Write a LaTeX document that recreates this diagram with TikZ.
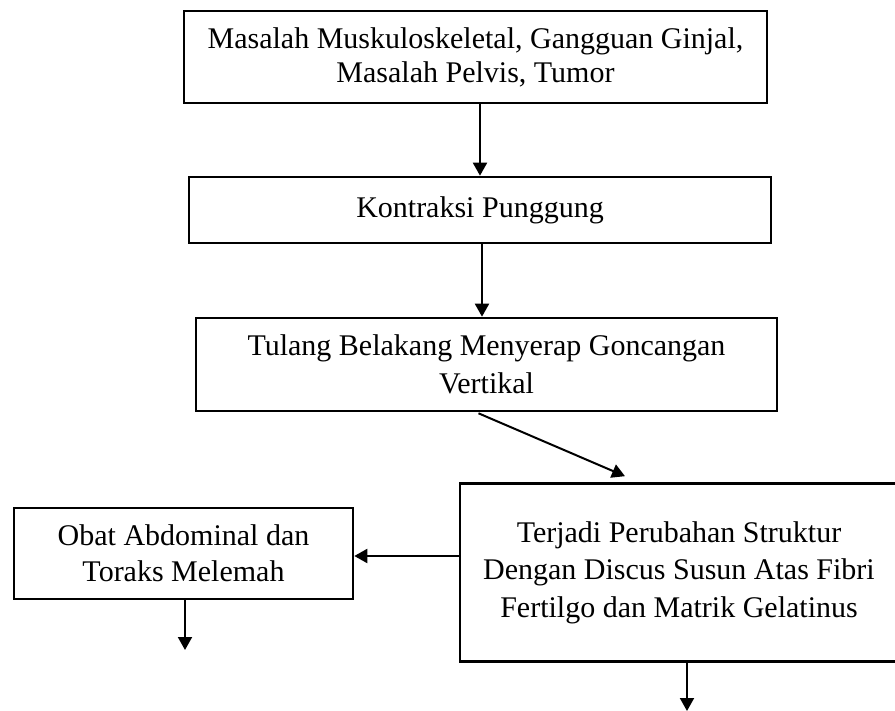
\documentclass[tikz,border=0pt]{standalone}
\usepackage{fontspec}
\setmainfont{Liberation Serif}
\usepackage{tikz}
\usetikzlibrary{calc,arrows.meta,positioning}
\definecolor{boxline}{RGB}{0,0,0}

\tikzset{
  kotak/.style={draw=boxline, line width=2.6pt, rectangle, align=center, inner sep=0pt,
    font=\fontsize{30}{36}\selectfont},
  panah/.style={draw=boxline, line width=2pt, -{Triangle[length=13pt,width=14pt]}}
}

\begin{document}
\begin{tikzpicture}[x=1pt,y=-1pt]
\useasboundingbox (0,0) rectangle (895,711);

% top chain
\node[kotak, minimum width=583pt, minimum height=92pt, font=\fontsize{30}{34}\selectfont]
  (masalah) at (475.5,57) {Masalah Muskuloskeletal, Gangguan Ginjal,\\Masalah Pelvis, Tumor};
\node[kotak, minimum width=582pt, minimum height=66pt] (kontraksi) at (480,210) {Kontraksi Punggung};
\node[kotak, minimum width=581pt, minimum height=93pt, font=\fontsize{30}{38}\selectfont]
  (tulang) at (486.5,364.5) {Tulang Belakang Menyerap Goncangan\\Vertikal};

% bottom row
\node[kotak, minimum width=438pt, minimum height=178pt, font=\fontsize{30}{37.5}\selectfont]
  (struktur) at (679,572.5) {Terjadi Perubahan Struktur\\Dengan Discus Susun Atas Fibri\\Fertilgo dan Matrik Gelatinus};
\node[kotak, minimum width=339pt, minimum height=91pt] (obat) at (183.5,553.5) {Obat Abdominal dan\\Toraks Melemah};

\coordinate (ujungkiri) at (185,650);
\coordinate (ujungkanan) at (687,711);

\draw[panah] (masalah.south -| kontraksi.north) -- (kontraksi.north);
\draw[panah] ([xshift=2pt]kontraksi.south) -- ([xshift=-4.5pt]tulang.north);
\draw[panah] ([xshift=-8pt,yshift=-1pt]tulang.south) -- ([xshift=-54pt,yshift=6pt]struktur.north);
\draw[panah] ([yshift=-2.5pt]obat.east -| struktur.west) -- ([yshift=-2.5pt]obat.east);
\draw[panah] (obat.south -| ujungkiri) -- (ujungkiri);
\draw[panah] (struktur.south -| ujungkanan) -- (ujungkanan);
\end{tikzpicture}
\end{document}
